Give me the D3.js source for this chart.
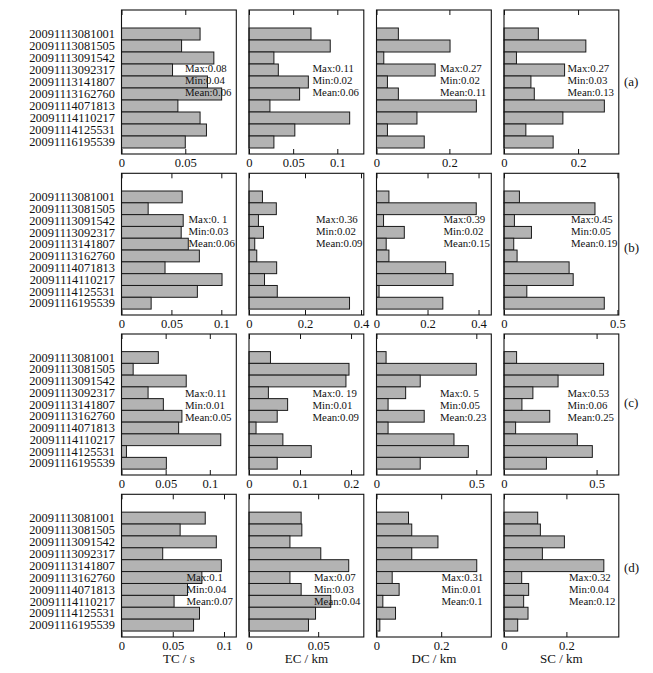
<!DOCTYPE html>
<html><head><meta charset="utf-8">
<script src="https://cdn.jsdelivr.net/npm/d3@7"></script>
<style>
body{margin:0;background:#fff}
svg{display:block}
text{font-family:"Liberation Serif","Times New Roman",serif;fill:#111}
</style>
</head><body>
<svg id="chart" width="653" height="673"></svg>
<script>
// ---------------- data ----------------
const categories = ["20091113081001","20091113081505","20091113091542","20091113092317","20091113141807",
  "20091113162760","20091114071813","20091114110217","20091114125531","20091116195539"];
const rowLabels = ["(a)","(b)","(c)","(d)"];
const metricTitles = ["TC / s","EC / km","DC / km","SC / km"];

// row (a)
const aTC = [0.0616,0.0471,0.0724,0.040,0.0674,0.0785,0.0442,0.0616,0.0666,0.050];
const aEC = [0.0702,0.092,0.0282,0.0332,0.0672,0.0573,0.0237,0.114,0.0519,0.0282];
const aDC = [0.060,0.2018,0.020,0.161,0.030,0.060,0.274,0.111,0.030,0.131];
const aSC = [0.0927,0.221,0.0336,0.1636,0.0727,0.0818,0.271,0.159,0.059,0.1327];
// row (b)
const bTC = [0.0608,0.0267,0.0618,0.0598,0.0669,0.078,0.0436,0.1007,0.076,0.0297];
const bEC = [0.048,0.0976,0.0337,0.0518,0.0205,0.0277,0.0988,0.0554,0.101,0.359];
const bDC = [0.0487,0.391,0.0276,0.109,0.038,0.0487,0.271,0.300,0.010,0.260];
const bSC = [0.068,0.401,0.0459,0.121,0.0429,0.0577,0.287,0.305,0.1006,0.442];
// row (c)
const cTC = [0.0417,0.0132,0.0733,0.0301,0.0474,0.0684,0.0647,0.1124,0.0056,0.0508];
const cEC = [0.0421,0.196,0.190,0.038,0.0757,0.0553,0.0138,0.0664,0.122,0.0553];
const cDC = [0.048,0.500,0.219,0.146,0.058,0.239,0.058,0.388,0.460,0.219];
const cSC = [0.068,0.538,0.292,0.156,0.0968,0.247,0.0627,0.396,0.477,0.229];
// row (d)
const dTC = [0.0817,0.0572,0.0925,0.0402,0.0974,0.0784,0.0644,0.0513,0.0761,0.0703];
const dEC = [0.0377,0.0382,0.0296,0.0519,0.0721,0.0296,0.0377,0.0591,0.0481,0.043];
const dDC = [0.099,0.109,0.190,0.109,0.310,0.0485,0.070,0.0196,0.0588,0.0103];
const dSC = [0.108,0.1166,0.1936,0.123,0.320,0.0567,0.079,0.063,0.077,0.0439];

// axis maxima and tick labels per panel
const axisMaxA = [0.09,0.13,0.315,0.31];
const axisMaxB = [0.115,0.41,0.45,0.506];
const axisMaxC = [0.13,0.225,0.575,0.62];
const axisMaxD = [0.112,0.083,0.355,0.368];
const ticksA = [[0,0.05],[0,0.05,0.1],[0,0.2],[0,0.2]];
const ticksB = [[0,0.05,0.1],[0,0.2,0.4],[0,0.2,0.4],[0,0.5]];
const ticksC = [[0,0.05,0.1],[0,0.1,0.2],[0,0.5],[0,0.5]];
const ticksD = [[0,0.05,0.1],[0,0.05],[0,0.2],[0,0.2]];

// summary annotations
const statsA = [["Max:0.08","Min:0.04","Mean:0.06"],["Max:0.11","Min:0.02","Mean:0.06"],["Max:0.27","Min:0.02","Mean:0.11"],["Max:0.27","Min:0.03","Mean:0.13"]];
const statsB = [["Max:0. 1","Min:0.03","Mean:0.06"],["Max:0.36","Min:0.02","Mean:0.09"],["Max:0.39","Min:0.02","Mean:0.15"],["Max:0.45","Min:0.05","Mean:0.19"]];
const statsC = [["Max:0.11","Min:0.01","Mean:0.05"],["Max:0. 19","Min:0.01","Mean:0.09"],["Max:0. 5","Min:0.05","Mean:0.23"],["Max:0.53","Min:0.06","Mean:0.25"]];
const statsD = [["Max:0.1","Min:0.04","Mean:0.07"],["Max:0.07","Min:0.03","Mean:0.04"],["Max:0.31","Min:0.01","Mean:0.1"],["Max:0.32","Min:0.04","Mean:0.12"]];

// ---------------- layout ----------------
const rows = [
  {series:[aTC,aEC,aDC,aSC], max:axisMaxA, ticks:ticksA, stats:statsA},
  {series:[bTC,bEC,bDC,bSC], max:axisMaxB, ticks:ticksB, stats:statsB},
  {series:[cTC,cEC,cDC,cSC], max:axisMaxC, ticks:ticksC, stats:statsC},
  {series:[dTC,dEC,dDC,dSC], max:axisMaxD, ticks:ticksD, stats:statsD}
];
const rowTop = [10,173.3,334,494.3];
const rowBot = [154,315,475,637];
const colLeft = [121.5,249,376.5,504];
const panelW = 114.8;
const statDX = [63.5,67,63.5,65];
const statDY = [58.3,46,59.3,83];
const labelDY = [76,79,73,78];
const serif = '"Liberation Serif","Times New Roman",serif';

const svg = d3.select("#chart");

rows.forEach((row, r) => {
  const top = rowTop[r], bot = rowBot[r];
  const y = d3.scaleLinear().domain([0,12]).range([bot, top]);
  row.series.forEach((vals, c) => {
    const left = colLeft[c];
    const x = d3.scaleLinear().domain([0,row.max[c]]).range([left, left+panelW]);
    const g = svg.append("g");
    // bars
    g.selectAll("rect.bar").data(vals).join("rect")
      .attr("class","bar")
      .attr("x", x(0))
      .attr("y", (d,i) => y(10 - i + 0.5))
      .attr("width", d => x(d) - x(0))
      .attr("height", (d,i) => y(10 - i - 0.5) - y(10 - i + 0.5))
      .attr("fill","#b3b3b3").attr("stroke","#1a1a1a").attr("stroke-width",1);
    // bottom axis (inner ticks)
    const ax = g.append("g").attr("transform",`translate(0,${bot})`)
      .call(d3.axisBottom(x).tickValues(row.ticks[c]).tickSize(-5).tickPadding(4)
        .tickFormat(d => d === 0 ? "0" : String(d)));
    ax.attr("font-family", serif).attr("font-size", 12.6);
    ax.select(".domain").remove();
    ax.selectAll("text").attr("fill","#111");
    ax.selectAll("line").attr("stroke","#111");
    // top axis ticks
    const axt = g.append("g").attr("transform",`translate(0,${top})`)
      .call(d3.axisTop(x).tickValues(row.ticks[c]).tickSize(-5).tickFormat(""));
    axt.select(".domain").remove();
    axt.selectAll("line").attr("stroke","#111");
    // frame
    g.append("rect").attr("x",left).attr("y",top).attr("width",panelW).attr("height",bot-top)
      .attr("fill","none").attr("stroke","#111").attr("stroke-width",1.1);
    // stats text
    g.selectAll("text.stat").data(row.stats[c]).join("text")
      .attr("class","stat")
      .attr("x", left + statDX[r])
      .attr("y", (d,i) => top + statDY[r] + i*12 + 3.8)
      .style("font-size","10.8px")
      .attr("fill","#222")
      .text(d => d);
    // category labels (first column only)
    if (c === 0) {
      g.selectAll("text.cat").data(categories).join("text")
        .attr("class","cat")
        .attr("x", left - 6.5)
        .attr("y", (d,i) => y(10 - i) + 4.2)
        .attr("text-anchor","end")
        .style("font-size","12.4px")
        .text(d => d);
    }
    // axis titles under last row
    if (r === 3) {
      g.append("text").attr("x", left + panelW/2).attr("y", 663)
        .attr("text-anchor","middle").style("font-size","13px").text(metricTitles[c]);
    }
  });
  svg.append("text").attr("x",624).attr("y", top + labelDY[r])
    .style("font-size","13px").text(rowLabels[r]);
});
</script>
</body></html>
